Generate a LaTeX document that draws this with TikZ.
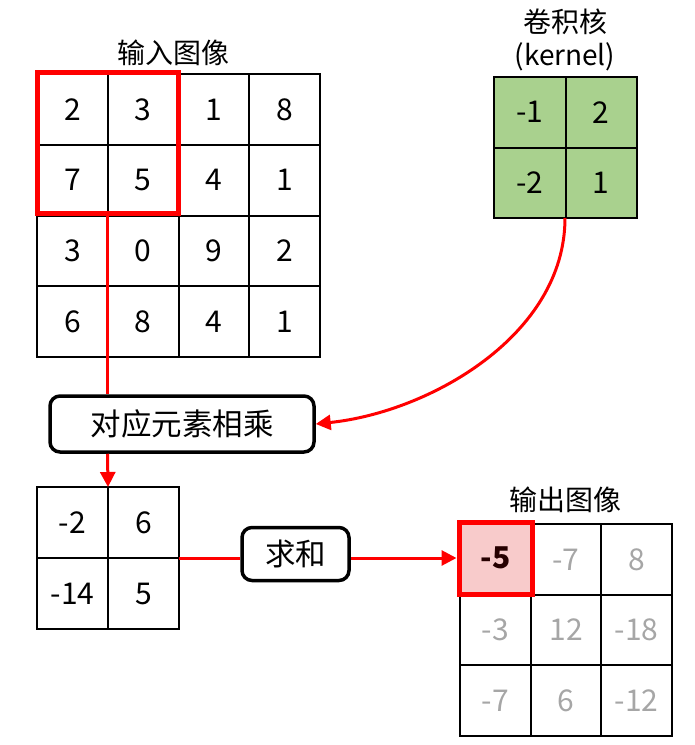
\documentclass[tikz,border=0pt]{standalone}
\usepackage{fontspec}
\setmainfont{Noto Sans CJK SC}
\usetikzlibrary{arrows.meta}
\definecolor{kgreen}{HTML}{A9D18E}
\definecolor{rred}{HTML}{FF0000}
\definecolor{pinkf}{HTML}{F8CBCB}
\definecolor{grayt}{HTML}{A6A6A6}
\begin{document}
\begin{tikzpicture}[x=1pt,y=-1pt,
  cell/.style={draw, line width=2pt, minimum width=70.75pt, minimum height=70.75pt, inner sep=0pt, font=\fontsize{30}{34}\selectfont},
  kcell/.style={cell, fill=kgreen, minimum width=71.5pt, minimum height=70.5pt},
  ocell/.style={cell, text=grayt},
  title/.style={inner sep=0pt, font=\fontsize{28}{32}\selectfont},
  btn/.style={draw, line width=3.5pt, rounded corners=10pt, fill=white, inner sep=0pt, font=\fontsize{30.5}{34}\selectfont},
  hl/.style={draw=rred, line width=5pt, inner sep=0pt},
  rline/.style={draw=rred, line width=3pt},
  rarrow/.style={rline, -{Triangle[length=15pt,width=15pt]}}
]
\useasboundingbox (0,0) rectangle (695,745);

% input image
\node[title] (tin) at (173,53) {输入图像};
\foreach \r/\row in {0/{2,3,1,8},1/{7,5,4,1},2/{3,0,9,2},3/{6,8,4,1}}{
  \foreach \v [count=\c from 0] in \row {
    \node[cell] (in-\r-\c) at ({37+70.75*(\c+0.5)},{74+70.75*(\r+0.5)}) {\v};
  }
}
\node[hl, minimum width=141pt, minimum height=141pt] (redbox) at (107.5,142.5) {};

% kernel
\node[title] (tk1) at (565,22) {卷积核};
\node[title] (tk2) at (565,57) {(kernel)};
\node[kcell] (k-0-0) at (529.75,112.25) {-1};
\node[kcell] (k-0-1) at (601.25,112.25) {2};
\node[kcell] (k-1-0) at (529.75,182.75) {-2};
\node[kcell] (k-1-1) at (601.25,182.75) {1};
\coordinate (kbot) at (565,218);

% multiply button
\node[btn, minimum width=264pt, minimum height=56pt] (mul) at (182,424) {对应元素相乘};

% product grid
\node[cell, minimum width=71pt, minimum height=71pt] (p-0-0) at (72.5,522.5) {-2};
\node[cell, minimum width=71pt, minimum height=71pt] (p-0-1) at (143.5,522.5) {6};
\node[cell, minimum width=71pt, minimum height=71pt] (p-1-0) at (72.5,593.5) {-14};
\node[cell, minimum width=71pt, minimum height=71pt] (p-1-1) at (143.5,593.5) {5};
\coordinate (ptop) at (108,487);
\coordinate (pright) at (179,558);

% sum button
\node[btn, minimum width=107pt, minimum height=53pt] (sum) at (295.5,554) {求和};

% output grid
\node[title] (tout) at (565,500) {输出图像};
\foreach \r/\row in {0/{-5,-7,8},1/{-3,12,-18},2/{-7,6,-12}}{
  \foreach \v [count=\c from 0] in \row {
    \node[ocell] (o-\r-\c) at ({460+70.7*(\c+0.5)},{524+70.7*(\r+0.5)}) {\v};
  }
}
\node[hl, fill=pinkf, minimum width=73pt, minimum height=72pt, font=\fontsize{30}{34}\selectfont\bfseries, text=black!85!red] (ohl) at (495.5,558) {-5};

% connectors
\draw[rline] (redbox.south) -- (mul.north -| redbox.south);
\draw[rarrow] (mul.south -| redbox.south) -- (ptop);
\draw[rarrow] (kbot) .. controls (565,335) and (430,412) .. (mul.east);
\draw[rline] (pright) -- (sum.west |- pright);
\draw[rarrow] (sum.east |- ohl.west) -- (ohl.west);
\end{tikzpicture}
\end{document}
